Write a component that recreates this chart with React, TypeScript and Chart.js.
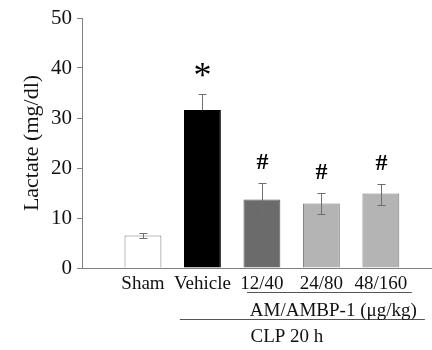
import React, { useEffect, useRef } from 'react';
import { Chart, registerables } from 'chart.js';

Chart.register(...registerables);

const categories = ['Sham', 'Vehicle', '12/40', '24/80', '48/160'];
const positions = [1, 2, 3, 4, 5];
const lactate = [6.5, 31.6, 13.7, 12.9, 14.9];
const errUp = [0.5, 3.3, 3.4, 2.2, 2.0];
const errDown = [0.5, 0, 3.2, 2.1, 2.2];
const marks = ['', '*', '#', '#', '#'];
const yTicks = [0, 10, 20, 30, 40, 50];
const fills = ['#ffffff', '#000000', '#6b6b6b', '#b4b4b4', '#b4b4b4'];
const borders = ['#7a7a7a', '#000000', '#555555', '#7a7a7a', '#7a7a7a'];
const yTitle = 'Lactate (mg/dl)';
const groupLabel = 'AM/AMBP-1 (\u03bcg/kg)';
const modelLabel = 'CLP 20 h';

const FONT = '"Liberation Serif", "Times New Roman", serif';

const annotations = {
  id: 'annotations',
  afterDatasetsDraw(chart: any) {
    const { ctx, scales } = chart;
    const x = scales.x;
    const y = scales.y;
    ctx.save();
    ctx.strokeStyle = '#6e6e6e';
    ctx.lineWidth = 1;
    positions.forEach((p, i) => {
      const px = Math.round(x.getPixelForValue(p)) + 0.5;
      const top = Math.round(y.getPixelForValue(lactate[i] + errUp[i])) + 0.5;
      const val = y.getPixelForValue(lactate[i]);
      const bot = Math.round(y.getPixelForValue(lactate[i] - errDown[i])) + 0.5;
      ctx.beginPath();
      ctx.moveTo(px, top);
      ctx.lineTo(px, errDown[i] > 0 ? bot : val);
      ctx.moveTo(px - 4, top);
      ctx.lineTo(px + 4, top);
      if (errDown[i] > 0) {
        ctx.moveTo(px - 4, bot);
        ctx.lineTo(px + 4, bot);
      }
      ctx.stroke();
      if (marks[i]) {
        ctx.fillStyle = '#000';
        ctx.textAlign = 'center';
        ctx.textBaseline = 'middle';
        if (marks[i] === '*') {
          ctx.font = `36px ${FONT}`;
          ctx.fillText(marks[i], px, top - 17);
        } else {
          ctx.font = `bold 24px ${FONT}`;
          ctx.fillText(marks[i], px, top - 21);
        }
      }
    });

    const b = chart.chartArea.bottom;
    ctx.strokeStyle = '#555';
    ctx.beginPath();
    const l1y = Math.round(b + 24) + 0.5;
    ctx.moveTo(x.getPixelForValue(2.75), l1y);
    ctx.lineTo(x.getPixelForValue(5.52), l1y);
    const l2y = Math.round(b + 51) + 0.5;
    ctx.moveTo(x.getPixelForValue(1.62), l2y);
    ctx.lineTo(x.getPixelForValue(5.74), l2y);
    ctx.stroke();

    ctx.fillStyle = '#111';
    ctx.font = `19px ${FONT}`;
    ctx.textAlign = 'center';
    ctx.textBaseline = 'middle';
    ctx.fillText(groupLabel, x.getPixelForValue(4.2), b + 43);
    ctx.fillText(modelLabel, x.getPixelForValue(3.42), b + 69);
    ctx.restore();
  },
};

export default function App() {
  const ref = useRef<HTMLCanvasElement>(null);
  useEffect(() => {
    if (!ref.current) return;
    const chart = new Chart(ref.current, {
      type: 'bar',
      data: {
        datasets: [
          {
            data: positions.map((p, i) => ({ x: p, y: lactate[i] })),
            backgroundColor: fills,
            borderColor: borders,
            borderWidth: 1,
            barPercentage: 0.62,
            categoryPercentage: 1,
          },
        ],
      },
      options: {
        animation: false,
        responsive: false,
        devicePixelRatio: 1,
        layout: { padding: { top: 18, right: 0, bottom: 0, left: 0 } },
        plugins: { legend: { display: false }, tooltip: { enabled: false } },
        scales: {
          x: {
            type: 'linear',
            offset: false,
            min: -0.025,
            max: 5.86,
            grid: { display: false, drawTicks: false },
            border: { display: true, color: '#808080', width: 1 },
            afterBuildTicks: (s: any) => {
              s.ticks = positions.map((v) => ({ value: v }));
            },
            ticks: {
              autoSkip: false,
              maxRotation: 0,
              padding: 5,
              color: '#111',
              font: { family: FONT, size: 19 },
              callback: (v: any) => {
                const idx = positions.indexOf(Number(v));
                return idx >= 0 ? categories[idx] : '';
              },
            },
            afterFit: (s: any) => {
              s.height = 82;
            },
          },
          y: {
            min: 0,
            max: 50,
            grid: {
              display: true,
              drawOnChartArea: false,
              drawTicks: true,
              tickLength: 5,
              color: '#808080',
            },
            border: { display: true, color: '#808080', width: 1 },
            afterBuildTicks: (s: any) => {
              s.ticks = yTicks.map((v) => ({ value: v }));
            },
            ticks: {
              padding: 5,
              color: '#111',
              font: { family: FONT, size: 21 },
            },
            title: {
              display: true,
              text: yTitle,
              color: '#111',
              font: { family: FONT, size: 22 },
              padding: { top: 19, bottom: 0 },
            },
            afterFit: (s: any) => {
              s.width = 82;
            },
          },
        },
      },
      plugins: [annotations],
    });
    return () => chart.destroy();
  }, []);
  return (
    <div style={{ position: 'absolute', left: 0, top: 0, width: 432, height: 350, background: '#fff' }}>
      <canvas ref={ref} width={432} height={350} style={{ display: 'block' }} />
    </div>
  );
}
